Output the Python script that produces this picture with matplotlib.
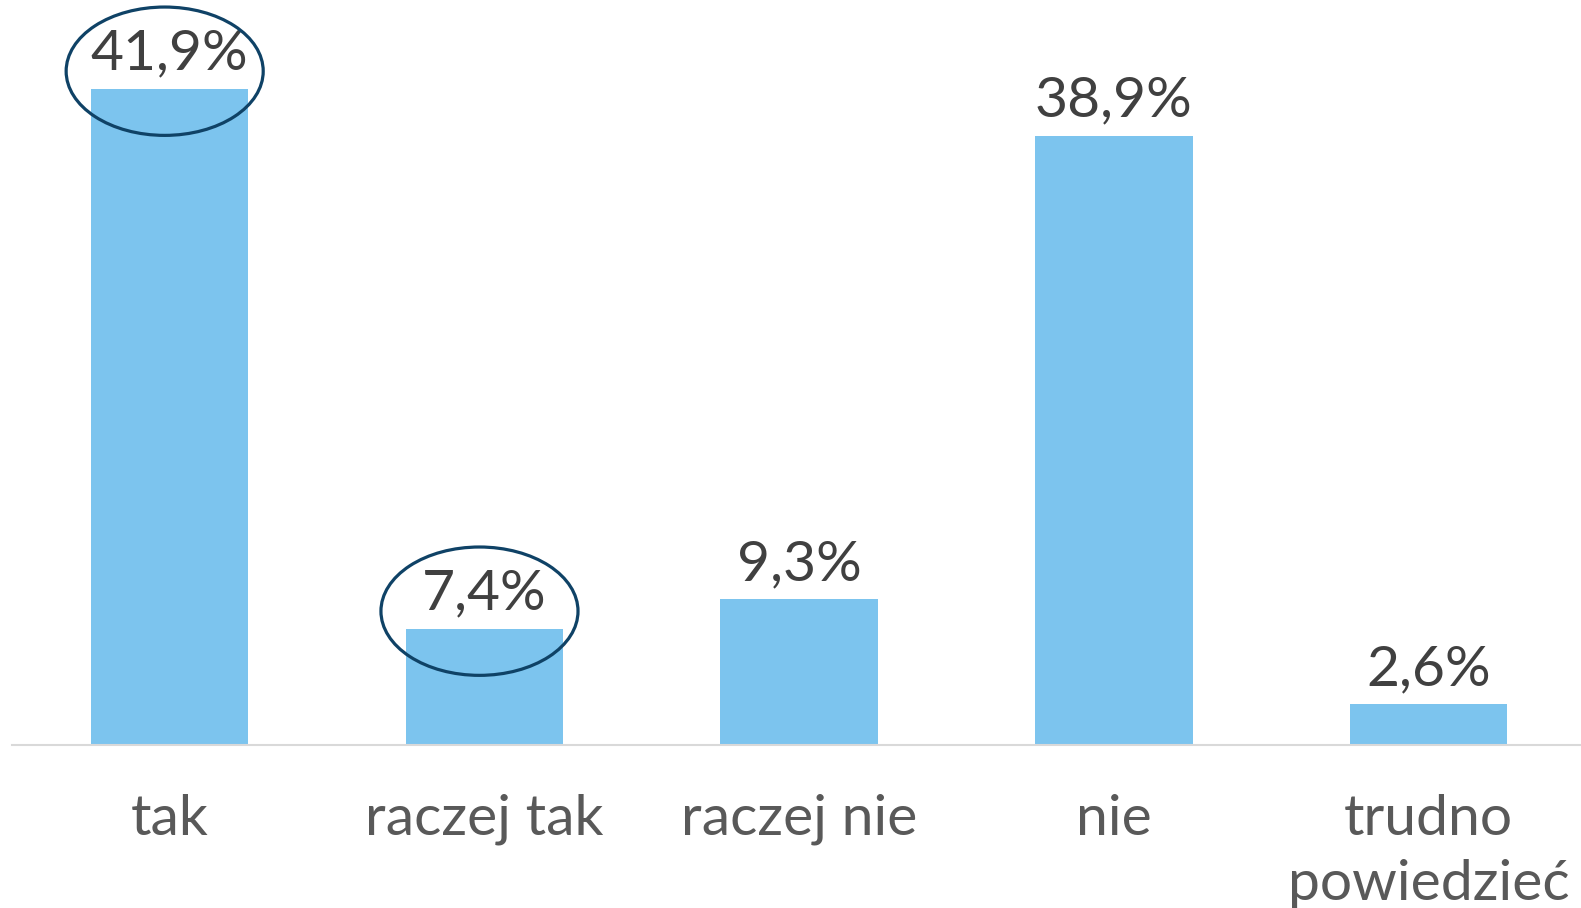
import matplotlib
matplotlib.use("Agg")
import matplotlib.pyplot as plt
from matplotlib.patches import Ellipse

categories = ["tak", "raczej tak", "raczej nie", "nie", "trudno\npowiedzieć"]
values = [41.9, 7.4, 9.3, 38.9, 2.6]
value_labels = ["41,9%", "7,4%", "9,3%", "38,9%", "2,6%"]
highlighted = [0, 1]

bar_color = "#7CC4EE"
ring_color = "#0F4266"
fontsize = 41

plt.rcParams['font.family'] = ['Lato', 'DejaVu Sans']

fig = plt.figure(figsize=(15.81, 9.08), dpi=100)
ax = fig.add_axes([12 / 1581, 163 / 908, 1574 / 1581, 745 / 908])

x = list(range(len(categories)))
ax.bar(x, values, width=0.5, color=bar_color, zorder=2)

for i, v in enumerate(values):
    ax.annotate(value_labels[i], (i, v), xytext=(0, 14), textcoords='offset points',
                ha='center', va='baseline', fontsize=fontsize, color='#404040')

# circled labels
for i in highlighted:
    e = Ellipse((i - 0.015, values[i] + 1.15), width=0.626, height=8.2,
                fill=False, edgecolor=ring_color, linewidth=2.3, zorder=3,
                clip_on=False)
    ax.add_patch(e)

ax.set_xlim(-0.5, 4.5)
ax.set_ylim(0, 47.6)
ax.set_xticks(x)
ax.set_xticklabels(categories, fontsize=fontsize, color='#595959', linespacing=1.35)
ax.tick_params(axis='x', length=0, pad=35)
ax.set_yticks([])
for s in ['top', 'right', 'left']:
    ax.spines[s].set_visible(False)
ax.spines['bottom'].set_color('#D9D9D9')
ax.spines['bottom'].set_linewidth(1.5)

fig.savefig('out.png', dpi=100)
